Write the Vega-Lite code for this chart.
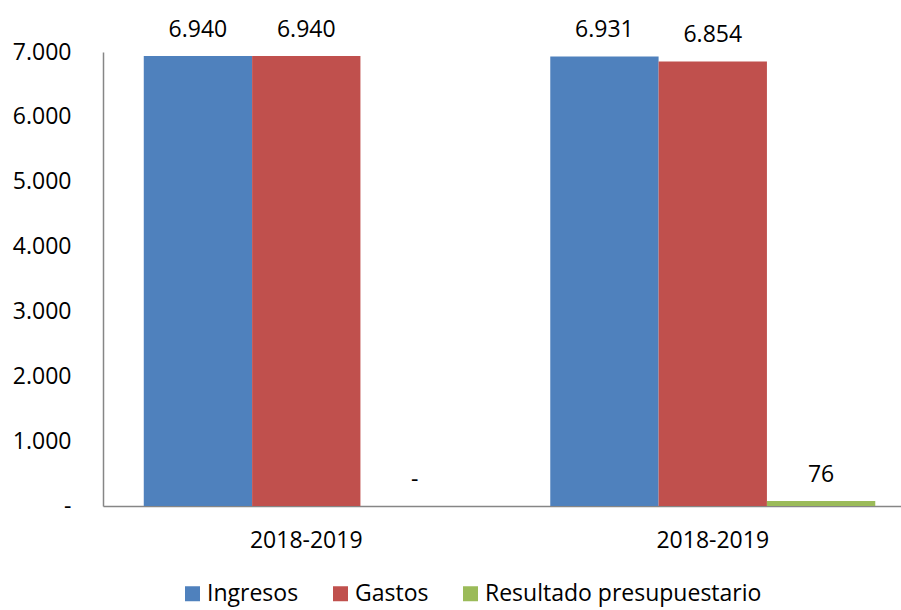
{
  "$schema": "https://vega.github.io/schema/vega-lite/v6.json",
  "autosize": {"type": "none"},
  "width": 798,
  "height": 454,
  "padding": {"left": 103, "top": 52, "right": 0, "bottom": 104},
  "background": "white",
  "config": {
    "view": {"stroke": null},
    "font": "Open Sans",
    "axis": {"labelFont": "Open Sans", "labelColor": "#000000"},
    "legend": {"labelFont": "Open Sans", "labelColor": "#000000"}
  },
  "data": {
    "values": [
      {"grupo": "g1", "serie": "Ingresos", "valor": 6940},
      {"grupo": "g1", "serie": "Gastos", "valor": 6940},
      {"grupo": "g1", "serie": "Resultado presupuestario", "valor": 0},
      {"grupo": "g2", "serie": "Ingresos", "valor": 6931},
      {"grupo": "g2", "serie": "Gastos", "valor": 6854},
      {"grupo": "g2", "serie": "Resultado presupuestario", "valor": 76}
    ]
  },
  "encoding": {
    "x": {
      "field": "grupo",
      "type": "nominal",
      "sort": ["g1", "g2"],
      "scale": {"paddingInner": 0.2005, "paddingOuter": 0.0818, "align": 0.613},
      "axis": {
        "title": null,
        "labelExpr": "'2018-2019'",
        "labelAngle": 0,
        "labelFontSize": 23,
        "labelPadding": 23,
        "ticks": false,
        "domainColor": "#868686",
        "domainWidth": 1.5
      }
    },
    "xOffset": {
      "field": "serie",
      "type": "nominal",
      "sort": ["Ingresos", "Gastos", "Resultado presupuestario"],
      "scale": {"paddingInner": 0, "paddingOuter": 0}
    },
    "y": {
      "field": "valor",
      "type": "quantitative",
      "scale": {"domain": [0, 7000], "nice": false},
      "axis": {
        "title": null,
        "values": [0, 1000, 2000, 3000, 4000, 5000, 6000, 7000],
        "labelExpr": "datum.value == 0 ? '-' : replace(format(datum.value, ','), ',', '.')",
        "labelFontSize": 23,
        "labelPadding": 32,
        "ticks": false,
        "grid": false,
        "domainColor": "#868686",
        "domainWidth": 1.5
      }
    }
  },
  "layer": [
    {
      "mark": {"type": "bar"},
      "encoding": {
        "color": {
          "field": "serie",
          "type": "nominal",
          "sort": ["Ingresos", "Gastos", "Resultado presupuestario"],
          "scale": {
            "domain": ["Ingresos", "Gastos", "Resultado presupuestario"],
            "range": ["#4F81BD", "#C0504D", "#9BBB59"]
          },
          "legend": {
            "title": null,
            "orient": "none",
            "direction": "horizontal",
            "legendX": 78,
            "legendY": 530,
            "symbolType": "square",
            "symbolSize": 225,
            "symbolStrokeWidth": 0,
            "symbolOpacity": 1,
            "labelFontSize": 23,
            "labelLimit": 0,
            "labelOffset": 3,
            "columnPadding": 30
          }
        }
      }
    },
    {
      "mark": {
        "type": "text",
        "baseline": "middle",
        "align": "center",
        "dy": -26,
        "fontSize": 23,
        "color": "#000000",
        "text": {"expr": "datum.valor == 0 ? '-' : replace(format(datum.valor, ','), ',', '.')"}
      }
    }
  ]
}
